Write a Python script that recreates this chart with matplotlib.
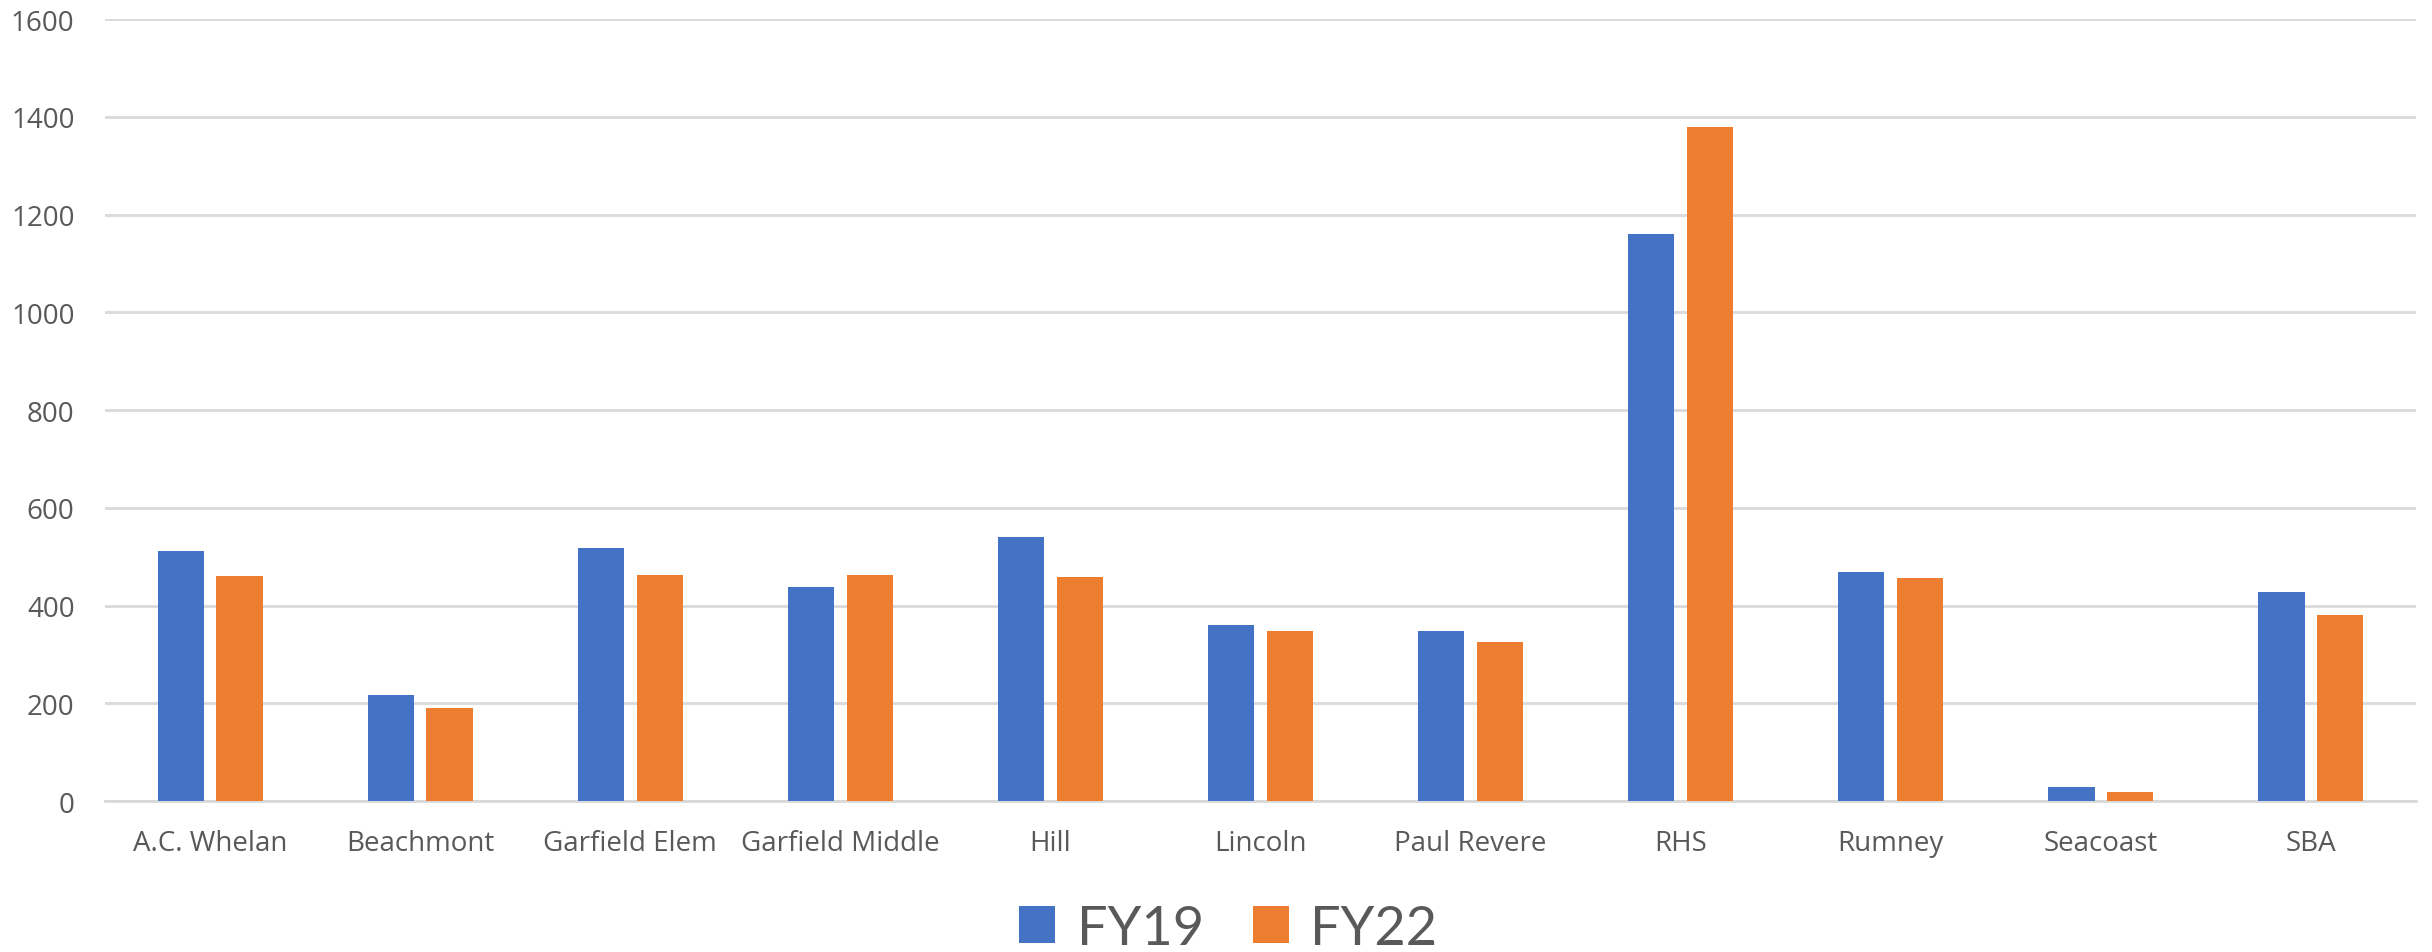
import numpy as np
import matplotlib.pyplot as plt

# data
schools = ["A.C. Whelan", "Beachmont", "Garfield Elem", "Garfield Middle", "Hill",
           "Lincoln", "Paul Revere", "RHS", "Rumney", "Seacoast", "SBA"]
fy19 = [511, 216, 518, 438, 540, 361, 347, 1160, 469, 29, 427]
fy22 = [460, 191, 462, 462, 459, 348, 326, 1380, 456, 18, 380]
series_names = ["FY19", "FY22"]
yticks = [0, 200, 400, 600, 800, 1000, 1200, 1400, 1600]

BLUE = "#4472C4"
ORANGE = "#ED7D31"
GRID = "#D9D9D9"
TEXT = "#595959"

fig = plt.figure(figsize=(24.32, 9.53), dpi=100)
ax = fig.add_axes([0.0432, 0.1584, 0.9502, 0.8206])

x = np.arange(len(schools))
w = 0.22
off = 0.14
ax.bar(x - off, fy19, width=w, color=BLUE, label=series_names[0], zorder=3)
ax.bar(x + off, fy22, width=w, color=ORANGE, label=series_names[1], zorder=3)

ax.set_xlim(-0.5, len(schools) - 0.5)
ax.set_ylim(0, 1600)
ax.set_yticks(yticks)
ax.set_xticks(x)
ax.set_xticklabels(schools)

ax.grid(axis="y", color=GRID, linewidth=2, zorder=0)
for s in ["top", "right", "left"]:
    ax.spines[s].set_visible(False)
ax.spines["bottom"].set_color(GRID)
ax.spines["bottom"].set_linewidth(2)

ax.tick_params(axis="both", length=0, labelsize=20, labelcolor=TEXT,
               labelfontfamily="Open Sans")
ax.tick_params(axis="y", pad=22)
ax.tick_params(axis="x", pad=20)

fig.legend(loc="center", bbox_to_anchor=(0.505, 0.025), ncol=2,
           frameon=False, labelcolor=TEXT,
           handlelength=0.67, handleheight=0.67, handletextpad=0.4,
           columnspacing=0.9, prop={"family": "Lato", "size": 39})

fig.savefig("out.png", dpi=100)
